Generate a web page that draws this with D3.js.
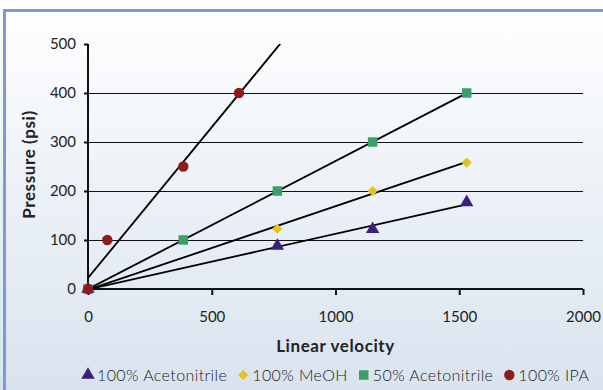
<!DOCTYPE html>
<html>
<head>
<meta charset="utf-8">
<script src="https://cdn.jsdelivr.net/npm/d3@7"></script>
<style>
  body { margin: 0; background: #fff; }
  svg text { font-family: Lato, "Open Sans", sans-serif; fill: #222; }
</style>
</head>
<body>
<div id="chart"></div>
<script>
// data
var seriesNames = ["100% Acetonitrile", "100% MeOH", "50% Acetonitrile", "100% IPA"]
var seriesColors = ["#3b1f7e", "#e6c21c", "#3a9f68", "#8f1b1b"]
var seriesShapes = ["triangle", "diamond", "square", "circle"]
var acnX = [0, 765, 1150, 1530]
var acnY = [0, 88, 122, 177]
var meohX = [0, 765, 1150, 1530]
var meohY = [0, 123, 200, 258]
var acn50X = [0, 385, 765, 1150, 1530]
var acn50Y = [0, 100, 200, 300, 400]
var ipaX = [0, 78, 385, 610]
var ipaY = [0, 100, 250, 400]
var trendEnd = [1530, 1530, 1530, 1000]   // IPA trendline runs off the top
var xTicks = [0, 500, 1000, 1500, 2000]
var yTicks = [0, 100, 200, 300, 400, 500]

var allX = [acnX, meohX, acn50X, ipaX]
var allY = [acnY, meohY, acn50Y, ipaY]

var width = 603, height = 390
var margin = {top: 44, right: 20, bottom: 101, left: 88}
var plotW = 583 - margin.left, plotH = 289 - margin.top

var svg = d3.select("#chart").append("svg")
  .attr("width", width)
  .attr("height", height)

// background gradient + frame
var defs = svg.append("defs")
var grad = defs.append("linearGradient")
  .attr("id", "bg").attr("x1", 0).attr("y1", 0).attr("x2", 0).attr("y2", 1)
grad.append("stop").attr("offset", "0%").attr("stop-color", "#ffffff")
grad.append("stop").attr("offset", "100%").attr("stop-color", "#d9e3ef")

defs.append("clipPath").attr("id", "plotclip")
  .append("rect").attr("x", 0).attr("y", 0).attr("width", plotW).attr("height", plotH)

svg.append("rect")
  .attr("x", 0).attr("y", 0).attr("width", width).attr("height", height)
  .attr("fill", "url(#bg)")

svg.append("path")
  .attr("d", "M4.5," + height + "V10.5H" + width)
  .attr("fill", "none")
  .attr("stroke", "#7d9ad4")
  .attr("stroke-width", 3)

var g = svg.append("g")
  .attr("transform", "translate(" + margin.left + "," + margin.top + ")")

var x = d3.scaleLinear().domain([0, 2000]).range([0, plotW])
var y = d3.scaleLinear().domain([0, 500]).range([plotH, 0])

// gridlines
g.append("g")
  .selectAll("line")
  .data(yTicks.filter(function(d) { return d > 0 && d < 500 }))
  .enter()
  .append("line")
  .attr("x1", 0).attr("x2", plotW)
  .attr("y1", function(d) { return y(d) + 0.5 }).attr("y2", function(d) { return y(d) + 0.5 })
  .attr("stroke", "#111")
  .attr("stroke-width", 1)
  .attr("shape-rendering", "crispEdges")

// axes
var xAxis = g.append("g")
  .attr("transform", "translate(0," + plotH + ")")
  .call(d3.axisBottom(x).tickValues(xTicks).tickFormat(d3.format("d")).tickSize(6).tickPadding(16))
var yAxis = g.append("g")
  .call(d3.axisLeft(y).tickValues(yTicks).tickFormat(d3.format("d")).tickSize(4).tickPadding(8))

;[xAxis, yAxis].forEach(function(a) {
  a.select(".domain").attr("stroke", "#111").attr("stroke-width", 2)
  a.selectAll(".tick line").attr("stroke", "#111").attr("stroke-width", 2)
  a.selectAll("text").style("font-size", "15px").attr("fill", "#333")
})
xAxis.select(".domain").attr("d", "M0,0H" + plotW)
xAxis.selectAll(".tick line").attr("y1", 0)
yAxis.select(".domain").attr("d", "M0,0V" + plotH)

// trendlines (least squares on each series)
function fit(xs, ys) {
  var mx = d3.mean(xs), my = d3.mean(ys)
  var sxy = d3.sum(xs, function(v, i) { return (v - mx) * (ys[i] - my) })
  var sxx = d3.sum(xs, function(v) { return (v - mx) * (v - mx) })
  var m = sxy / sxx
  return {m: m, b: my - m * mx}
}

var lines = g.append("g").attr("clip-path", "url(#plotclip)")
allX.forEach(function(xs, i) {
  var f = fit(xs, allY[i])
  lines.append("line")
    .attr("x1", x(0)).attr("y1", y(f.b))
    .attr("x2", x(trendEnd[i])).attr("y2", y(f.b + f.m * trendEnd[i]))
    .attr("stroke", "#000")
    .attr("stroke-width", 1.8)
})

// markers
var symbolTypes = {
  triangle: d3.symbolTriangle,
  diamond: d3.symbolSquare,
  square: d3.symbolSquare,
  circle: d3.symbolCircle
}
var symbolSizes = {triangle: 78, diamond: 52, square: 90, circle: 85}

function marker(sel, i) {
  var s = seriesShapes[i]
  sel.attr("d", d3.symbol().type(symbolTypes[s]).size(symbolSizes[s]))
    .attr("fill", seriesColors[i])
}

// draw in reverse so the acetonitrile points sit on top like the original
;[2, 1, 0, 3].forEach(function(i) {
  var pts = allX[i].map(function(v, j) { return [v, allY[i][j]] })
  var rot = seriesShapes[i] == "diamond" ? " rotate(45)" : ""
  g.append("g")
    .selectAll("path")
    .data(pts)
    .enter()
    .append("path")
    .attr("transform", function(d) { return "translate(" + x(d[0]) + "," + y(d[1]) + ")" + rot })
    .call(marker, i)
})

// axis titles
svg.append("text")
  .attr("x", margin.left + x(1000))
  .attr("y", 352)
  .attr("text-anchor", "middle")
  .style("font-size", "17px")
  .style("font-weight", "bold")
  .style("letter-spacing", "0.6px")
  .text("Linear velocity")

svg.append("text")
  .attr("transform", "translate(35," + (margin.top + y(250) - 2) + ") rotate(-90)")
  .attr("text-anchor", "middle")
  .style("font-size", "17px")
  .style("font-weight", "bold")
  .style("letter-spacing", "0.6px")
  .text("Pressure (psi)")

// legend
var lx = 82
var legend = svg.append("g").attr("transform", "translate(0,375)")
seriesNames.forEach(function(name, i) {
  var rot = seriesShapes[i] == "diamond" ? " rotate(45)" : ""
  legend.append("path")
    .attr("transform", "translate(" + (lx + 6) + ",0)" + rot)
    .call(marker, i)
  var t = legend.append("text")
    .attr("x", lx + 15)
    .attr("y", 5.5)
    .style("font-size", "16px")
    .style("font-weight", 300)
    .style("letter-spacing", "0.4px")
    .attr("fill", "#333")
    .text(name)
  lx += 15 + t.node().getComputedTextLength() + 10
})
</script>
</body>
</html>
